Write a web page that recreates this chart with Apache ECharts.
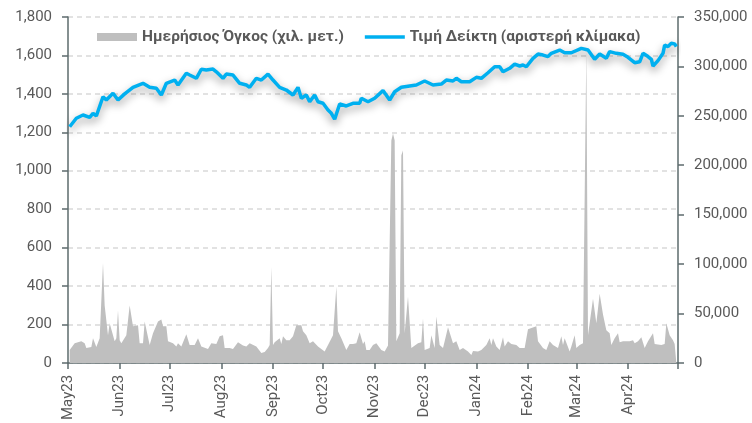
<!DOCTYPE html>
<html>
<head>
<meta charset="utf-8">
<script src="https://cdn.jsdelivr.net/npm/echarts@6/dist/echarts.min.js"></script>
<style>
html,body{margin:0;padding:0;background:#fff;}
#chart{width:752px;height:423px;}
</style>
</head>
<body>
<div id="chart"></div>
<script>
// ---- Data ----
const monthNames = ['Jan','Feb','Mar','Apr','May','Jun','Jul','Aug','Sep','Oct','Nov','Dec'];
const seriesNames = ['Ημερήσιος Όγκος (χιλ. μετ.)', 'Τιμή Δείκτη (αριστερή κλίμακα)'];

const priceDates = [
'2023-05-02','2023-05-06','2023-05-10','2023-05-14','2023-05-16','2023-05-18','2023-05-22','2023-05-24','2023-05-28','2023-05-31',
'2023-06-04','2023-06-09','2023-06-15','2023-06-19','2023-06-23','2023-06-26','2023-06-29',
'2023-07-04','2023-07-06','2023-07-11','2023-07-13','2023-07-17','2023-07-20','2023-07-23','2023-07-27','2023-07-29',
'2023-08-02','2023-08-04','2023-08-08','2023-08-12','2023-08-16','2023-08-18','2023-08-22','2023-08-25','2023-08-29',
'2023-09-01','2023-09-05','2023-09-09','2023-09-13','2023-09-16','2023-09-18','2023-09-21','2023-09-23','2023-09-26','2023-09-28',
'2023-10-01','2023-10-04','2023-10-06','2023-10-08','2023-10-11','2023-10-15','2023-10-19','2023-10-23','2023-10-24','2023-10-28',
'2023-11-01','2023-11-06','2023-11-10','2023-11-13','2023-11-17','2023-11-22','2023-11-26',
'2023-12-01','2023-12-06','2023-12-11','2023-12-14','2023-12-18','2023-12-20','2023-12-23','2023-12-28',
'2024-01-01','2024-01-04','2024-01-08','2024-01-12','2024-01-15','2024-01-17','2024-01-21','2024-01-24','2024-01-27','2024-01-29','2024-01-31',
'2024-02-04','2024-02-07','2024-02-10','2024-02-13','2024-02-15','2024-02-20','2024-02-23','2024-02-27','2024-02-28',
'2024-03-04','2024-03-08','2024-03-12','2024-03-15','2024-03-19','2024-03-21','2024-03-25','2024-03-29',
'2024-04-01','2024-04-05','2024-04-08','2024-04-10','2024-04-13','2024-04-15','2024-04-16','2024-04-19','2024-04-22','2024-04-23','2024-04-25','2024-04-27','2024-04-29','2024-04-30'
];
const priceValues = [
1229,1273,1290,1278,1299,1285,1385,1368,1403,1368,
1400,1434,1455,1434,1429,1394,1455,
1472,1446,1507,1498,1481,1528,1524,1529,1515,
1481,1503,1498,1455,1446,1434,1481,1472,1503,
1472,1434,1420,1394,1434,1377,1394,1359,1394,1359,
1351,1316,1299,1268,1347,1337,1351,1351,1377,1359,
1377,1417,1368,1411,1434,1441,1446,
1467,1446,1451,1472,1467,1481,1463,1463,
1486,1481,1510,1541,1541,1515,1533,1555,1545,1550,1541,
1585,1607,1602,1594,1611,1628,1614,1614,1620,
1637,1628,1580,1607,1585,1620,1611,1606,
1590,1562,1567,1611,1594,1580,1545,1573,1611,1654,1646,1663,1660,1646
];

const volDates = [
'2023-05-02','2023-05-03','2023-05-05','2023-05-09','2023-05-11','2023-05-12','2023-05-15','2023-05-16','2023-05-18','2023-05-20',
'2023-05-22','2023-05-23','2023-05-25','2023-05-26','2023-05-29','2023-05-30','2023-05-31',
'2023-06-01','2023-06-02','2023-06-05','2023-06-07','2023-06-09','2023-06-12','2023-06-13','2023-06-15','2023-06-16','2023-06-19','2023-06-21','2023-06-24','2023-06-26','2023-06-27','2023-06-29','2023-06-30',
'2023-07-03','2023-07-05','2023-07-06','2023-07-08','2023-07-11','2023-07-13','2023-07-16','2023-07-18','2023-07-20','2023-07-24','2023-07-26','2023-07-29','2023-07-31',
'2023-08-02','2023-08-03','2023-08-06','2023-08-08','2023-08-11','2023-08-14','2023-08-16','2023-08-18','2023-08-22','2023-08-25','2023-08-27','2023-08-29','2023-08-30','2023-08-31',
'2023-09-01','2023-09-02','2023-09-05','2023-09-06','2023-09-07','2023-09-09','2023-09-11','2023-09-13','2023-09-15','2023-09-18','2023-09-19','2023-09-21','2023-09-23','2023-09-25','2023-09-28',
'2023-10-02','2023-10-04','2023-10-05','2023-10-07','2023-10-09','2023-10-10','2023-10-12','2023-10-15','2023-10-17','2023-10-19','2023-10-21','2023-10-22','2023-10-23','2023-10-25','2023-10-26','2023-10-27','2023-10-29','2023-10-31',
'2023-11-02','2023-11-03','2023-11-05','2023-11-07','2023-11-09','2023-11-10','2023-11-11','2023-11-12','2023-11-13','2023-11-14','2023-11-15','2023-11-16','2023-11-17','2023-11-18','2023-11-19','2023-11-20','2023-11-21','2023-11-23','2023-11-24','2023-11-27','2023-11-29','2023-11-30',
'2023-12-01','2023-12-04','2023-12-05','2023-12-07','2023-12-08','2023-12-10','2023-12-12','2023-12-13','2023-12-15','2023-12-18','2023-12-20','2023-12-22','2023-12-24','2023-12-27','2023-12-29','2023-12-30',
'2024-01-02','2024-01-04','2024-01-07','2024-01-09','2024-01-10','2024-01-11','2024-01-13','2024-01-15','2024-01-17','2024-01-18','2024-01-20','2024-01-22','2024-01-23','2024-01-25','2024-01-27','2024-01-30',
'2024-02-01','2024-02-02','2024-02-06','2024-02-07','2024-02-10','2024-02-12','2024-02-14','2024-02-16','2024-02-19','2024-02-21','2024-02-22','2024-02-23','2024-02-26','2024-02-27','2024-02-29',
'2024-03-01','2024-03-03','2024-03-05','2024-03-06','2024-03-07','2024-03-08','2024-03-11','2024-03-13','2024-03-14','2024-03-15','2024-03-17','2024-03-19','2024-03-21','2024-03-22','2024-03-24','2024-03-26','2024-03-27','2024-03-29','2024-03-31',
'2024-04-02','2024-04-04','2024-04-05','2024-04-07','2024-04-09','2024-04-11','2024-04-13','2024-04-16','2024-04-17','2024-04-21','2024-04-23','2024-04-24','2024-04-26','2024-04-28','2024-04-29','2024-04-30'
];
const volValues = [
13000,15000,20000,22000,20000,15000,16000,25000,16000,25000,
101000,58000,28000,40000,22000,25000,53000,
23000,20000,28000,58000,37000,38000,20000,20000,42000,18000,30000,42000,44000,37000,37000,22000,
20000,16500,20000,16500,29000,18000,18000,25000,16500,14000,20000,19000,27000,
28000,15000,15000,14000,21000,17500,16500,20000,16500,10000,11000,15000,18000,97000,
18000,21000,25000,19000,27000,23000,23000,27000,38000,38000,32000,28000,20000,22000,16500,
11500,18000,16500,28000,77000,32000,25000,13000,19000,19000,20000,21000,31000,19000,22000,13000,13000,18000,
20000,18000,13000,11500,17500,16500,225000,232000,225000,22000,20000,30000,210000,215000,30000,28000,67000,15000,13000,20000,21000,45000,
13000,15000,28000,15000,47000,18000,15000,22000,36000,20000,22000,13000,15000,11500,8000,12000,
11500,13000,18000,25000,18000,25000,16500,13000,26000,16500,22000,19000,20000,18000,15000,15000,
34000,33000,37000,22000,15000,13000,22000,18000,15000,27000,18000,25000,11500,16500,28000,
15000,18000,20000,21000,316000,28000,65000,40000,38000,70000,49000,33000,30000,18000,25000,30000,21000,22000,22000,
22000,23000,20000,22000,26000,15000,22000,30000,19000,18000,19000,40000,28000,23000,19000,18000
];

// ---- Build series data ----
const priceData = priceDates.map((d, i) => [d, priceValues[i]]);
const volData = volDates.map((d, i) => [d, volValues[i]]);

const axisColor = '#5d6b6d';
const textColor = '#595959';
const fontFamily = 'Roboto';
const xMax = new Date('2024-05-01T00:00:00').getTime();

const chart = echarts.init(document.getElementById('chart'), null, {renderer: 'canvas'});
chart.setOption({
  animation: false,
  backgroundColor: '#ffffff',
  textStyle: {fontFamily: fontFamily},
  grid: {left: 68, right: 74, top: 17, bottom: 60, containLabel: false},
  legend: {
    left: 92, top: 24,
    itemWidth: 40, itemHeight: 8, itemGap: 21,
    textStyle: {color: textColor, fontSize: 15.5, fontWeight: 'bold', fontFamily: fontFamily},
    data: [
      {name: seriesNames[0], icon: 'path://M0,0L40,0L40,8L0,8Z'},
      {name: seriesNames[1], icon: 'path://M0,0L40,0L40,3.5L0,3.5Z'}
    ]
  },
  xAxis: {
    type: 'time',
    min: '2023-05-01',
    max: '2024-05-01',
    splitNumber: 12,
    minInterval: 28 * 86400000,
    maxInterval: 31 * 86400000,
    axisLine: {show: true, lineStyle: {color: axisColor, width: 1.5}},
    axisTick: {show: true, length: 6, lineStyle: {color: axisColor, width: 1.5}},
    splitLine: {show: false},
    axisLabel: {
      rotate: 90, margin: 12, color: textColor, fontSize: 15, fontFamily: fontFamily,
      formatter: function (val) {
        if (val >= xMax) return '';
        const d = new Date(val);
        return monthNames[d.getMonth()] + String(d.getFullYear()).slice(2);
      }
    }
  },
  yAxis: [
    {
      type: 'value', min: 0, max: 1800, interval: 200, position: 'left',
      axisLine: {show: true, lineStyle: {color: axisColor, width: 1.5}},
      axisTick: {show: true, length: 6, lineStyle: {color: axisColor, width: 1.5}},
      splitLine: {show: true, lineStyle: {color: '#d9d9d9', type: [5, 4], width: 1.5}},
      axisLabel: {
        color: textColor, fontSize: 15, margin: 16, fontFamily: fontFamily,
        formatter: v => v.toLocaleString('en-US')
      }
    },
    {
      type: 'value', min: 0, max: 350000, interval: 50000, position: 'right',
      axisLine: {show: true, lineStyle: {color: axisColor, width: 1.5}},
      axisTick: {show: true, length: 6, lineStyle: {color: axisColor, width: 1.5}},
      splitLine: {show: false},
      axisLabel: {
        color: textColor, fontSize: 15, margin: 16, fontFamily: fontFamily,
        formatter: v => v.toLocaleString('en-US')
      }
    }
  ],
  series: [
    {
      name: seriesNames[0],
      type: 'line',
      yAxisIndex: 1,
      data: volData,
      symbol: 'none',
      symbolKeepAspect: true,
      lineStyle: {width: 0, color: '#bfbfbf'},
      itemStyle: {color: '#bfbfbf'},
      areaStyle: {color: '#bfbfbf', opacity: 1},
      z: 1
    },
    {
      name: seriesNames[1],
      type: 'line',
      yAxisIndex: 0,
      data: priceData,
      symbol: 'none',
      symbolKeepAspect: true,
      itemStyle: {color: '#00b0f0'},
      lineStyle: {
        color: '#00b0f0', width: 3.5,
        shadowColor: 'rgba(0,0,0,0.4)', shadowBlur: 9, shadowOffsetY: 4
      },
      z: 3
    }
  ]
});
</script>
</body>
</html>
